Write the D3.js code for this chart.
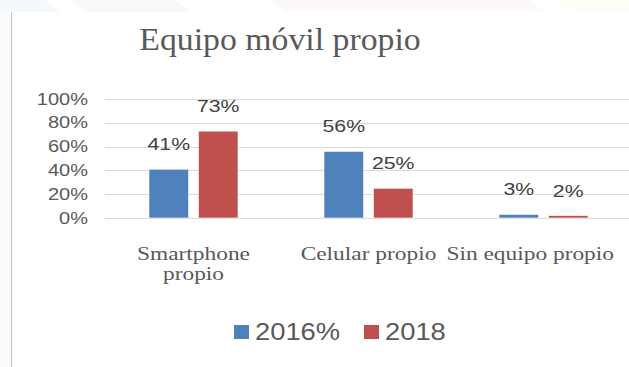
<!DOCTYPE html>
<html>
<head>
<meta charset="utf-8">
<script src="https://cdn.jsdelivr.net/npm/d3@7"></script>
<style>
  html, body { margin: 0; padding: 0; background: #ffffff; }
  svg { display: block; }
</style>
</head>
<body>
<svg id="chart" width="629" height="367"></svg>
<script>
// Data
const categories = ["Smartphone propio", "Celular propio", "Sin equipo propio"];
const categoryLines = [["Smartphone", "propio"], ["Celular propio"], ["Sin equipo propio"]];
const seriesNames = ["2016%", "2018"];
const values2016 = [0.41, 0.56, 0.03];
const values2018 = [0.73, 0.25, 0.02];
const yTicks = [0, 0.2, 0.4, 0.6, 0.8, 1.0];
const titleText = "Equipo móvil propio";

const colors = { "2016%": "#4f81bd", "2018": "#c0504d" };
const textGray = "#595959";

const svg = d3.select("#chart");
const W = 629, H = 367;

// faint decorative background shapes along the top edge
const deco = svg.append("g");
deco.append("polygon").attr("points", "0,0 45,0 60,12 0,12").attr("fill", "#f5f8fc");
deco.append("polygon").attr("points", "70,0 175,0 190,12 85,12").attr("fill", "#faf8fb");
deco.append("polygon").attr("points", "270,0 530,0 545,12 285,12").attr("fill", "#fdf8fa");
deco.append("polygon").attr("points", "560,0 629,0 629,12 575,12").attr("fill", "#fefdf6");
deco.append("rect").attr("x", 0).attr("y", 12).attr("width", 10).attr("height", H - 12).attr("fill", "#fafbfd");

// chart frame edge on the left
svg.append("line").attr("x1", 11.5).attr("x2", 11.5).attr("y1", 12).attr("y2", H)
  .attr("stroke", "#c8c8c8").attr("stroke-width", 1.2);

// text helper: horizontally stretched glyphs
function stext(parent, x, y, str, o) {
  const g = parent.append("g")
    .attr("transform", `translate(${x},${y}) scale(${o.sx || 1},1)`);
  const t = g.append("text")
    .attr("x", 0).attr("y", 0)
    .attr("text-anchor", o.anchor || "middle")
    .attr("font-family", o.family || "'Liberation Sans', Arial, sans-serif")
    .attr("font-size", o.size)
    .attr("fill", o.fill || textGray)
    .text(str);
  return { g, t };
}

// Title
stext(svg, 280, 50, titleText, {
  size: 31, sx: 1.09, family: "'Liberation Serif', 'DejaVu Serif', serif", fill: "#595959"
});

// Scales
const y = d3.scaleLinear().domain([0, 1]).range([218, 99]);
const x0 = d3.scaleBand().domain(categories).range([106, 631]).paddingInner(0).paddingOuter(0);
const x1 = d3.scaleBand().domain(seriesNames).range([43, 132]).paddingInner(0.2);

// gridlines
svg.append("g").selectAll("line").data(yTicks).join("line")
  .attr("x1", 105).attr("x2", W)
  .attr("y1", d => Math.round(y(d)) + 0.5).attr("y2", d => Math.round(y(d)) + 0.5)
  .attr("stroke", "#d9d9d9").attr("stroke-width", 1);

// y tick labels
const fmt = d3.format(".0%");
yTicks.forEach(d => {
  stext(svg, 88, y(d) + 5.5, fmt(d), { size: 16, sx: 1.25, anchor: "end", fill: textGray });
});

// bars
const rows = categories.map((c, i) => ({ cat: c, vals: [values2016[i], values2018[i]] }));
const groups = svg.append("g").selectAll("g").data(rows).join("g")
  .attr("transform", d => `translate(${x0(d.cat)},0)`);

groups.selectAll("rect").data(d => d.vals.map((v, j) => ({ s: seriesNames[j], v })))
  .join("rect")
  .attr("x", d => x1(d.s))
  .attr("y", d => y(d.v))
  .attr("width", x1.bandwidth())
  .attr("height", d => y(0) - y(d.v))
  .attr("fill", d => colors[d.s])
  .attr("stroke", "#ffffff").attr("stroke-width", 0.6);

// value labels
rows.forEach(r => {
  r.vals.forEach((v, j) => {
    const cx = x0(r.cat) + x1(seriesNames[j]) + x1.bandwidth() / 2;
    stext(svg, cx, y(v) - 19, fmt(v), { size: 17, sx: 1.25, fill: "#404040" });
  });
});

// category labels (kept inside the right edge)
const catSx = 1.3;
categories.forEach((c, i) => {
  let cx = x0(c) + x0.bandwidth() / 2;
  const lbl = stext(svg, cx, 260, "", {
    size: 18, sx: catSx, family: "'Liberation Serif', 'DejaVu Serif', serif", fill: textGray
  });
  lbl.t.selectAll("tspan").data(categoryLines[i]).join("tspan")
    .attr("x", 0).attr("dy", (d, k) => k === 0 ? 0 : 20).text(d => d);
  const w = lbl.t.node().getBBox().width * catSx;
  if (cx + w / 2 > 614) {
    cx = 614 - w / 2;
    lbl.g.attr("transform", `translate(${cx},260) scale(${catSx},1)`);
  }
});

// legend
const legend = svg.append("g");
const legendX = [234, 364];
seriesNames.forEach((s, i) => {
  legend.append("rect")
    .attr("x", legendX[i]).attr("y", 325).attr("width", 15).attr("height", 14)
    .attr("fill", colors[s]);
  stext(legend, legendX[i] + 21, 340, s, { size: 24, sx: 1.14, anchor: "start", fill: textGray });
});
</script>
</body>
</html>
